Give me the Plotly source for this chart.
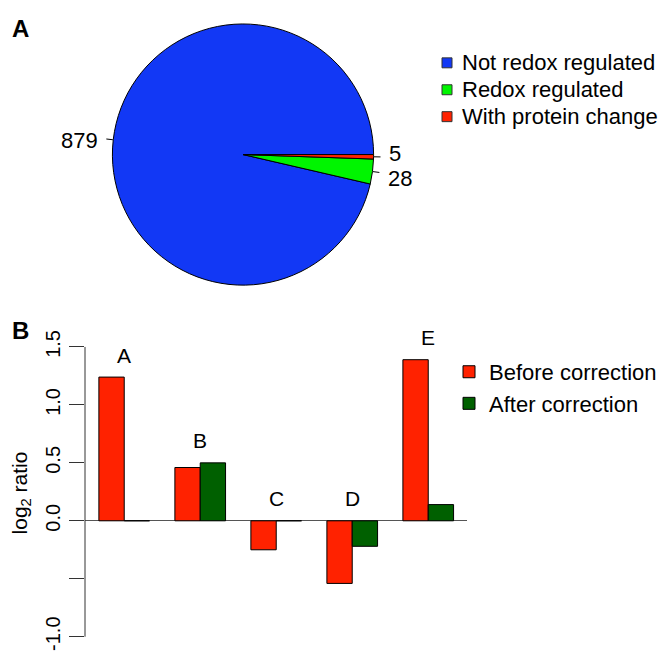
import numpy as np
import plotly.graph_objects as go

# ---------------- data ----------------
pie_labels = ["Not redox regulated", "Redox regulated", "With protein change"]
pie_values = [879, 28, 5]
pie_colors = ["#1238F5", "#00F500", "#FF2200"]

groups = ["A", "B", "C", "D", "E"]
before = [1.24, 0.46, -0.25, -0.54, 1.39]
after = [0.0, 0.50, 0.0, -0.22, 0.14]
series_names = ["Before correction", "After correction"]
series_colors = ["#FF2200", "#006000"]

y_tickvals = [-1.0, -0.5, 0.0, 0.5, 1.0, 1.5]
y_ticktext = ["-1.0", "", "0.0", "0.5", "1.0", "1.5"]

# ---------------- layout constants ----------------
PAGE = 8                      # default body margin of the html page
W, H = 666 - PAGE, 654 - PAGE
FONT = "Liberation Sans, Arial, Helvetica, sans-serif"
PIE_LABEL_YSHIFT = [-2, -5, 4]   # small nudges so the two tiny-slice labels do not collide


def fx(px):  # screen px -> paper x
    return (px - PAGE) / W


def fy(py):  # screen px -> paper y
    return 1 - (py - PAGE) / H


PCX, PCY, PR = 243, 153, 131  # pie centre / radius (screen px)

fig = go.Figure()

total = float(sum(pie_values))
fig.add_trace(go.Pie(
    labels=pie_labels, values=pie_values, sort=False,
    direction="counterclockwise",
    rotation=90 - 360 * pie_values[0] / total,   # first slice starts at 3 o'clock
    marker=dict(colors=pie_colors, line=dict(color="black", width=1)),
    textinfo="none", hoverinfo="label+value", showlegend=False,
    domain=dict(x=[fx(PCX - PR), fx(PCX + PR)], y=[fy(PCY + PR), fy(PCY - PR)]),
))

# pie value labels with small tick lines (R style)
cum = np.cumsum([0] + pie_values)
for i, v in enumerate(pie_values):
    mid = 2 * np.pi * (cum[i] + v / 2.0) / total
    c, s = np.cos(mid), np.sin(mid)
    fig.add_shape(type="line", xref="paper", yref="paper",
                  x0=fx(PCX + PR * c), y0=fy(PCY - PR * s),
                  x1=fx(PCX + 1.05 * PR * c), y1=fy(PCY - 1.05 * PR * s),
                  line=dict(color="black", width=1))
    fig.add_annotation(xref="paper", yref="paper",
                       x=fx(PCX + 1.1 * PR * c), y=fy(PCY - 1.1 * PR * s),
                       yshift=PIE_LABEL_YSHIFT[i],
                       text=str(v), showarrow=False,
                       xanchor="left" if c > 0 else "right", yanchor="middle",
                       font=dict(size=22, family=FONT, color="black"))

# pie legend (R style, tight spacing)
LEG_X, LEG_Y0, LEG_DY, SQ = 447, 61, 27, 10
for i, (lab, col) in enumerate(zip(pie_labels, pie_colors)):
    yc = LEG_Y0 + i * LEG_DY
    fig.add_shape(type="rect", xref="paper", yref="paper",
                  x0=fx(LEG_X - SQ / 2), x1=fx(LEG_X + SQ / 2),
                  y0=fy(yc + SQ / 2), y1=fy(yc - SQ / 2),
                  fillcolor=col, line=dict(color="#333333", width=1))
    fig.add_annotation(xref="paper", yref="paper", x=fx(LEG_X + 13), y=fy(yc),
                       text=lab, showarrow=False, xanchor="left", yanchor="middle",
                       font=dict(size=22, family=FONT, color="black"))

# bars
for name, vals, col in zip(series_names, [before, after], series_colors):
    fig.add_trace(go.Bar(
        x=groups, y=vals, name=name,
        marker=dict(color=col, line=dict(color="black", width=1)),
        legend="legend2",
    ))

# group letters above bars
for g, b, a in zip(groups, before, after):
    fig.add_annotation(x=g, y=max(0.0, b, a) + 0.19, xref="x", yref="y",
                       text=g, showarrow=False, yanchor="middle",
                       font=dict(size=21, family=FONT, color="black"))

# y-axis line from -1 to 1.5 only
fig.add_shape(type="line", xref="x domain", yref="y", x0=0, x1=0,
              y0=min(y_tickvals), y1=max(y_tickvals),
              line=dict(color="#333333", width=1))

# panel letters
for letter, ypx in (("A", 27), ("B", 329)):
    fig.add_annotation(xref="paper", yref="paper", x=fx(10), y=fy(ypx),
                       text="<b>%s</b>" % letter, showarrow=False,
                       xanchor="left", yanchor="middle",
                       font=dict(size=24, family=FONT, color="black"))

# bar axes: zero at screen y 520.4, 116.27 px per unit
Y0PX, YSCALE = 520.4, 116.27
ydom_top_px = PAGE + H * 0.5
yr = [(Y0PX - (PAGE + H)) / YSCALE, (Y0PX - ydom_top_px) / YSCALE]

fig.update_layout(
    width=W, height=H, autosize=False,
    margin=dict(l=0, r=0, t=0, b=0),
    paper_bgcolor="white", plot_bgcolor="white",
    font=dict(family=FONT, size=20, color="black"),
    barmode="group", bargap=1 / 3, bargroupgap=0,
    xaxis=dict(domain=[fx(85), fx(467)], range=[-0.516, 4.51],
               showticklabels=False, showline=False, ticks="",
               showgrid=False, zeroline=False),
    yaxis=dict(domain=[0, 0.5], range=yr,
               tickmode="array", tickvals=y_tickvals, ticktext=y_ticktext,
               tickangle=-90, ticks="outside", ticklen=15, tickwidth=1,
               tickcolor="#333333", tickfont=dict(size=20),
               ticklabelstandoff=1,
               showline=False, showgrid=False,
               zeroline=True, zerolinecolor="#555555", zerolinewidth=1,
               title=dict(text="log<sub>2</sub> ratio", font=dict(size=21), standoff=10)),
    legend2=dict(x=fx(489 - 40), y=fy(350), xanchor="left", yanchor="top",
                 font=dict(size=22), bgcolor="rgba(0,0,0,0)"),
)

fig.write_html("out.html")
